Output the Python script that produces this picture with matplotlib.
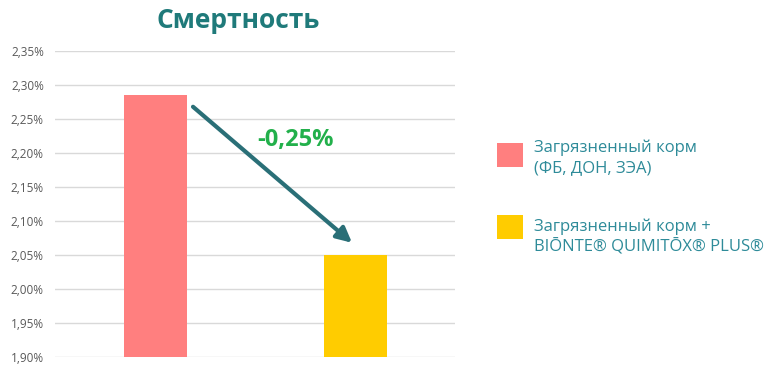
import matplotlib.pyplot as plt
from matplotlib.ticker import FuncFormatter, MultipleLocator
from matplotlib.patches import Rectangle

# Данные
categories = ["Загрязненный корм\n(ФБ, ДОН, ЗЭА)",
              "Загрязненный корм +\nBIŌNTE® QUIMITŌX® PLUS®"]
mortality = [2.285, 2.05]
colors = ["#FF7F7F", "#FFCC00"]
diff_label = "-0,25%"

plt.rcParams['font.family'] = ['Open Sans', 'DejaVu Sans']

W, H = 768, 375
fig = plt.figure(figsize=(W / 100, H / 100), dpi=100)
ax = fig.add_axes([55 / W, 1 - 357 / H, 400 / W, 306 / H])

x = list(range(len(categories)))
ax.bar(x, mortality, width=0.315, color=colors, zorder=3)

ax.set_xlim(-0.5, 1.5)
ax.set_ylim(1.90, 2.35)
ax.yaxis.set_major_locator(MultipleLocator(0.05))
ax.yaxis.set_major_formatter(FuncFormatter(lambda v, p: f"{v:.2f}%".replace(".", ",")))
ax.grid(axis='y', color="#D9D9D9", linewidth=1, zorder=0)
ax.set_xticks([])
for s in ax.spines.values():
    s.set_visible(False)
ax.tick_params(axis='y', length=0, labelsize=8.5, labelcolor="#595959", pad=8)

# стрелка и подпись разницы
ax.annotate("", xy=(0.985, 2.068), xytext=(0.19, 2.268),
            arrowprops=dict(arrowstyle="-|>,head_length=0.9,head_width=0.45",
                            color="#2A6F77", lw=3, shrinkA=0, shrinkB=0), zorder=4)
ax.text(0.7, 2.219, diff_label, color="#22B04B", fontsize=17, fontweight='bold',
        ha='center', va='center', zorder=5)

fig.text(238 / W, 1 - 20 / H, "Смертность", color="#1F7A7A", fontsize=19,
         fontweight='bold', ha='center', va='center')

# легенда вручную
sq_y = [143, 215]
txt_y = [158, 237]
for c, label, sy, ty in zip(colors, categories, sq_y, txt_y):
    fig.patches.append(Rectangle((497 / W, 1 - (sy + 24) / H), 26 / W, 24 / H,
                                 transform=fig.transFigure, facecolor=c, edgecolor='none'))
    fig.text(534 / W, 1 - ty / H, label, color="#2E8B99", fontsize=12,
             ha='left', va='center', linespacing=1.3)

fig.savefig("out.png", dpi=100)
